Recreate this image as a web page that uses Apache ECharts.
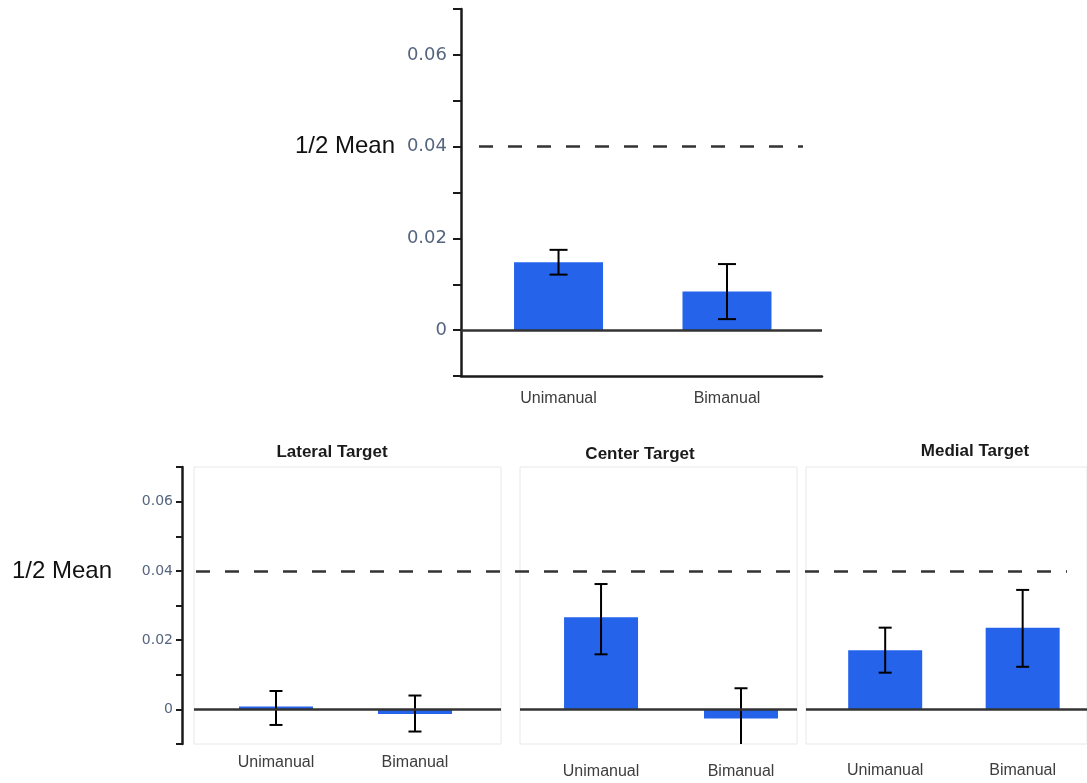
<!DOCTYPE html>
<html>
<head>
<meta charset="utf-8">
<title>Bar chart with error bars</title>
<script src="https://cdn.jsdelivr.net/npm/echarts@6/dist/echarts.min.js"></script>
<style>
  html, body { margin: 0; padding: 0; background: #ffffff; }
  #chart { width: 1087px; height: 783px; }
</style>
</head>
<body>
<div id="chart"></div>
<script>
// ---- data ----
const categories = ['Unimanual', 'Bimanual'];

// pooled over all targets
const overallMean = [0.0148, 0.0084];
const overallLow = [0.0121, 0.0024];
const overallHigh = [0.0175, 0.0144];

// per-target panels
const panelTitles = ['Lateral Target', 'Center Target', 'Medial Target'];
const lateralMean = [0.0008, -0.0013];
const lateralLow = [-0.0045, -0.0064];
const lateralHigh = [0.0053, 0.0040];
const centerMean = [0.0266, -0.0026];
const centerLow = [0.0159, -0.0125];
const centerHigh = [0.0362, 0.0061];
const medialMean = [0.0171, 0.0236];
const medialLow = [0.0106, 0.0123];
const medialHigh = [0.0236, 0.0345];

const halfMean = 0.04;
const halfMeanLabel = '1/2 Mean';
const yTicks = { min: -0.01, max: 0.07, step: 0.01 };

// ---- styling ----
const BAR = '#2563eb';
const INK = '#1a1a1a';
const TICK_TEXT = '#56657f';
const CAT_TEXT = '#3d3d3d';
const SANS = "'Liberation Sans', Arial, sans-serif";

// ---- layout (pixels) ----
const grids = [
  { left: 461, top: 9, width: 361, height: 367 },   // pooled
  { left: 194, top: 467, width: 307, height: 277, show: true }, // lateral
  { left: 520, top: 467, width: 277, height: 277, show: true }, // center
  { left: 806, top: 467, width: 284, height: 277, show: true }, // medial
  { left: 479, top: 9, width: 324, height: 367 },   // reference line, pooled
  { left: 196, top: 467, width: 871, height: 277 }  // reference line, per target
];
// x extents so that category k sits at value k
const xRanges = [[0.421, 2.564], [0.41, 2.619], [0.421, 2.40], [0.424, 2.468]];
const barWidths = [89, 74, 74, 74];
const capWidths = [18, 13, 13, 13];
const labelMargins = [15, 11, 20, 19];

const panelData = [
  { mean: overallMean, low: overallLow, high: overallHigh },
  { mean: lateralMean, low: lateralLow, high: lateralHigh },
  { mean: centerMean, low: centerLow, high: centerHigh },
  { mean: medialMean, low: medialLow, high: medialHigh }
];

function tickLabel(v) {
  const k = Math.round(v * 100);
  if (k % 2 !== 0 || k < 0) return '';
  return k === 0 ? '0' : (k / 100).toFixed(2);
}

const xAxes = [];
const yAxes = [];
const series = [];

panelData.forEach((p, i) => {
  xAxes.push({
    type: 'value', gridIndex: i,
    min: xRanges[i][0], max: xRanges[i][1],
    axisLine: { show: i === 0, onZero: false, lineStyle: { color: INK, width: 2.5 } },
    axisTick: { show: false },
    splitLine: { show: false },
    axisLabel: {
      customValues: [1, 2],
      formatter: v => categories[Math.round(v) - 1],
      margin: labelMargins[i],
      color: CAT_TEXT, fontFamily: SANS, fontSize: 16
    }
  });
  const isTop = i === 0;
  yAxes.push({
    type: 'value', gridIndex: i,
    min: yTicks.min, max: yTicks.max, interval: yTicks.step,
    show: i <= 1,
    offset: i === 1 ? 12 : 0,
    axisLine: { show: true, onZero: false, lineStyle: { color: INK, width: 2.5 } },
    axisTick: { show: true, length: isTop ? 8 : 6, lineStyle: { color: INK, width: 2 } },
    splitLine: { show: false },
    axisLabel: {
      formatter: tickLabel,
      margin: isTop ? 14 : 9,
      color: TICK_TEXT,
      fontFamily: "'DejaVu Sans', sans-serif",
      fontSize: isTop ? 18 : 14
    }
  });

  // zero line behind the bars
  series.push({
    type: 'line', xAxisIndex: i, yAxisIndex: i, data: [], z: 1,
    markLine: {
      silent: true, symbol: 'none', label: { show: false },
      lineStyle: { type: 'solid', color: '#333333', width: 2.5 },
      data: [{ yAxis: 0 }]
    }
  });
  series.push({
    type: 'bar', xAxisIndex: i, yAxisIndex: i, z: 2,
    barWidth: barWidths[i],
    itemStyle: { color: BAR },
    data: p.mean.map((v, k) => [k + 1, v])
  });
  const cap = capWidths[i];
  series.push({
    type: 'custom', xAxisIndex: i, yAxisIndex: i, z: 3, clip: true,
    encode: { x: 0, y: [1, 2] },
    data: p.low.map((lo, k) => [k + 1, lo, p.high[k]]),
    renderItem: (params, api) => {
      const lo = api.coord([api.value(0), api.value(1)]);
      const hi = api.coord([api.value(0), api.value(2)]);
      const style = { stroke: '#000000', lineWidth: 2 };
      return {
        type: 'group',
        children: [
          { type: 'line', shape: { x1: lo[0], y1: lo[1], x2: hi[0], y2: hi[1] }, style },
          { type: 'line', shape: { x1: hi[0] - cap / 2, y1: hi[1], x2: hi[0] + cap / 2, y2: hi[1] }, style },
          { type: 'line', shape: { x1: lo[0] - cap / 2, y1: lo[1], x2: lo[0] + cap / 2, y2: lo[1] }, style }
        ]
      };
    }
  });
});

// dashed half-mean reference lines
[4, 5].forEach(g => {
  xAxes.push({ type: 'value', gridIndex: g, min: 0, max: 1, show: false });
  yAxes.push({ type: 'value', gridIndex: g, min: yTicks.min, max: yTicks.max, interval: yTicks.step, show: false });
  series.push({
    type: 'line', xAxisIndex: g, yAxisIndex: g, data: [], z: 5,
    markLine: {
      silent: true, symbol: 'none',
      lineStyle: { type: [14, 15], color: '#333333', width: 2.5 },
      label: {
        show: true, position: 'start', distance: 84,
        formatter: halfMeanLabel,
        color: '#111111', fontFamily: SANS, fontSize: 24
      },
      data: [{ yAxis: halfMean }]
    }
  });
});

const titleCenters = [[332, 444], [640, 446], [975, 443]];

const option = {
  animation: false,
  backgroundColor: '#ffffff',
  title: panelTitles.map((t, i) => ({
    text: t,
    left: titleCenters[i][0], top: titleCenters[i][1],
    textAlign: 'center',
    padding: 0,
    textStyle: { fontFamily: SANS, fontWeight: 'bold', fontSize: 17, color: '#1a1a1a' }
  })),
  grid: grids.map(g => Object.assign({ borderColor: '#e8e8e8', borderWidth: 1, containLabel: false }, g)),
  xAxis: xAxes,
  yAxis: yAxes,
  series: series
};

const chart = echarts.init(document.getElementById('chart'), null, { renderer: 'canvas' });
chart.setOption(option);
</script>
</body>
</html>
